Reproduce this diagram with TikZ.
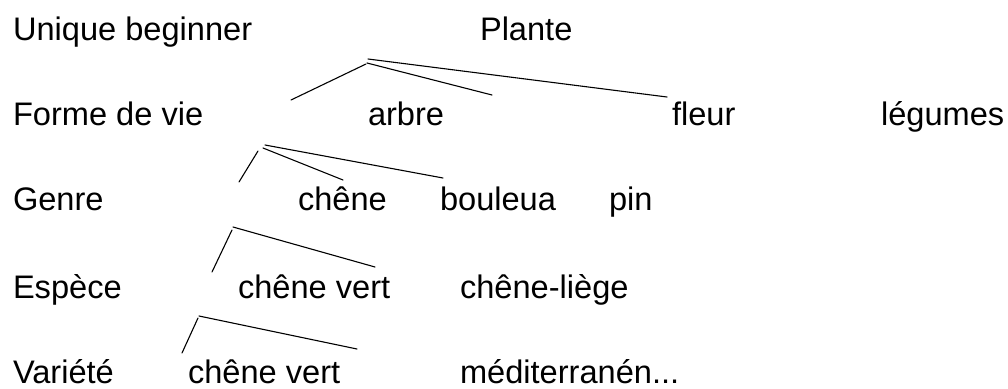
\documentclass[tikz,border=0pt]{standalone}
\usepackage{fontspec}
\setmainfont{Liberation Sans}
\begin{document}
\begin{tikzpicture}[x=1pt,y=-1pt,
  word/.style={anchor=base west,inner sep=0pt,outer sep=0pt,
    font=\fontsize{32.6}{39}\selectfont},
  branch/.style={line width=1.1pt,line cap=round}]
\useasboundingbox (0,0) rectangle (1008,388);

% level labels (left column)
\node[word] (ub)   at (13,40)  {Unique beginner};
\node[word] (fdv)  at (13,125) {Forme de vie};
\node[word] (gen)  at (13,210) {Genre};
\node[word] (esp)  at (13,298) {Espèce};
\node[word] (var)  at (13,383) {Variété};

% taxonomy entries
\node[word] (plante)  at (480,40)  {Plante};
\node[word] (arbre)   at (368,125) {arbre};
\node[word] (fleur)   at (672,125) {fleur};
\node[word] (legumes) at (881,125) {légumes};
\node[word] (chene)   at (298,210) {chêne};
\node[word] (bouleua) at (440,210) {bouleua};
\node[word] (pin)     at (609,210) {pin};
\node[word] (cvert)   at (238,298) {chêne vert};
\node[word] (cliege)  at (460,298) {chêne-liège};
\node[word] (cvert2)  at (188,383) {chêne vert};
\node[word] (medit)   at (460,383) {méditerranén...};

% branch end points
\coordinate (p1a) at (366,64);  \coordinate (p1b) at (291,100);
\coordinate (p2a) at (367,63);  \coordinate (p2b) at (492,95);
\coordinate (p3a) at (368,59);  \coordinate (p3b) at (667,97);

\coordinate (f1a) at (258,151); \coordinate (f1b) at (239,182);
\coordinate (f2a) at (263,148); \coordinate (f2b) at (343,180);
\coordinate (f3a) at (265,145); \coordinate (f3b) at (443,178);

\coordinate (g1a) at (232,230); \coordinate (g1b) at (212,272);
\coordinate (g2a) at (233,227); \coordinate (g2b) at (375,267);

\coordinate (e1a) at (198,318); \coordinate (e1b) at (182,353);
\coordinate (e2a) at (199,316); \coordinate (e2b) at (357,349);

% branches
\draw[branch] (p1a) -- (p1b);
\draw[branch] (p2a) -- (p2b);
\draw[branch] (p3a) -- (p3b);
\draw[branch] (f1a) -- (f1b);
\draw[branch] (f2a) -- (f2b);
\draw[branch] (f3a) -- (f3b);
\draw[branch] (g1a) -- (g1b);
\draw[branch] (g2a) -- (g2b);
\draw[branch] (e1a) -- (e1b);
\draw[branch] (e2a) -- (e2b);
\end{tikzpicture}
\end{document}
